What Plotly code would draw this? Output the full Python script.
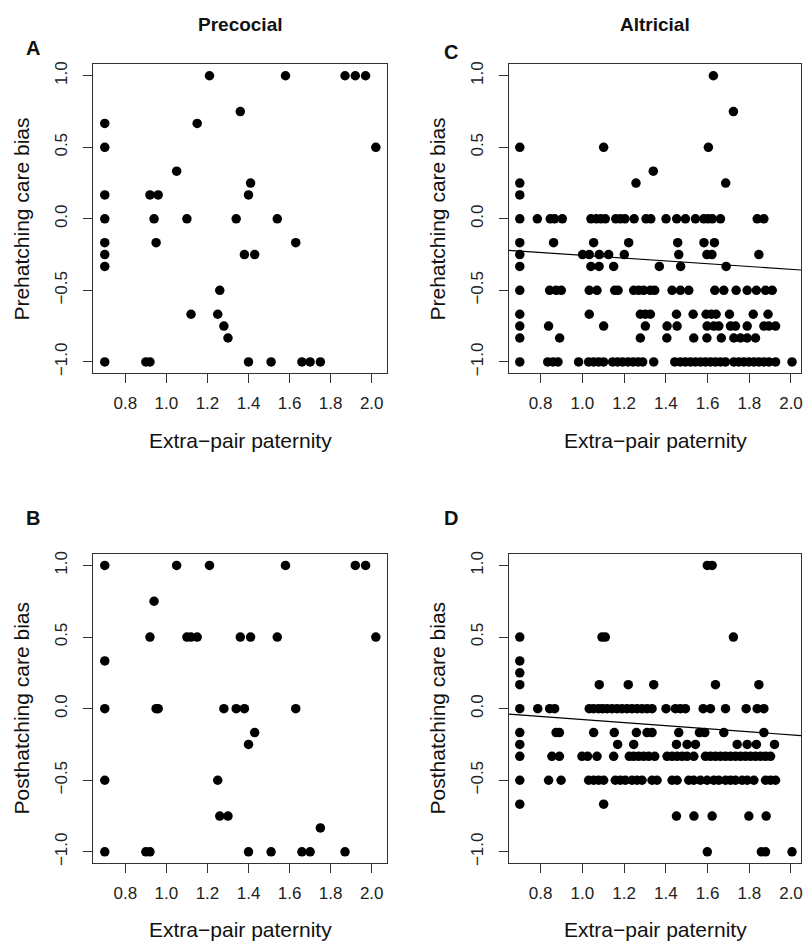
import plotly.graph_objects as go

# ---------------- data ----------------
tick_x = [0.8, 1.0, 1.2, 1.4, 1.6, 1.8, 2.0]
tick_x_text = ["0.8", "1.0", "1.2", "1.4", "1.6", "1.8", "2.0"]
tick_y = [-1.0, -0.5, 0.0, 0.5, 1.0]
tick_y_text = ["\u22121.0", "\u22120.5", "0.0", "0.5", "1.0"]

# Panel A: precocial, prehatching care bias
precocial_pre_x = [0.70, 0.70, 0.70, 0.70, 0.70, 0.70, 0.70, 0.70,
                   0.90, 0.92, 0.92, 0.94, 0.95, 0.96,
                   1.05, 1.10, 1.12, 1.15, 1.21, 1.25, 1.26, 1.28, 1.30,
                   1.34, 1.36, 1.38, 1.40, 1.40, 1.41, 1.43,
                   1.51, 1.54, 1.58, 1.63, 1.66, 1.70, 1.75,
                   1.87, 1.92, 1.97, 2.02]
precocial_pre_y = [0.667, 0.5, 0.167, 0.0, -0.167, -0.25, -0.333, -1.0,
                   -1.0, -1.0, 0.167, 0.0, -0.167, 0.167,
                   0.333, 0.0, -0.667, 0.667, 1.0, -0.667, -0.5, -0.75, -0.833,
                   0.0, 0.75, -0.25, 0.167, -1.0, 0.25, -0.25,
                   -1.0, 0.0, 1.0, -0.167, -1.0, -1.0, -1.0,
                   1.0, 1.0, 1.0, 0.5]

# Panel B: precocial, posthatching care bias
precocial_post_x = [0.70, 0.70, 0.70, 0.70, 0.70,
                    0.90, 0.92, 0.92, 0.94, 0.95, 0.96,
                    1.05, 1.10, 1.12, 1.15,
                    1.21, 1.25, 1.26, 1.28, 1.30,
                    1.34, 1.36, 1.38, 1.40, 1.40, 1.41, 1.43,
                    1.51, 1.54, 1.58, 1.63, 1.66, 1.70, 1.75,
                    1.87, 1.92, 1.97, 2.02]
precocial_post_y = [1.0, 0.333, 0.0, -0.5, -1.0,
                    -1.0, -1.0, 0.5, 0.75, 0.0, 0.0,
                    1.0, 0.5, 0.5, 0.5,
                    1.0, -0.5, -0.75, 0.0, -0.75,
                    0.0, 0.5, 0.0, -0.25, -1.0, 0.5, -0.167,
                    -1.0, 0.5, 1.0, 0.0, -1.0, -1.0, -0.833,
                    -1.0, 1.0, 1.0, 0.5]

# Panel C: altricial, prehatching care bias (x values grouped by bias level)
altricial_pre_levels = [1.0, 0.75, 0.5, 0.333, 0.25, 0.167, 0.0, -0.167,
                        -0.25, -0.333, -0.5, -0.667, -0.75, -0.833, -1.0]
altricial_pre_rows = [
    [1.628],
    [1.724],
    [0.70, 1.102, 1.604],
    [1.340],
    [0.70, 1.257, 1.687],
    [0.70],
    [0.70, 0.784, 0.846, 0.867, 0.904, 1.041, 1.067, 1.089, 1.110, 1.160, 1.182,
     1.204, 1.248, 1.305, 1.328, 1.401, 1.452, 1.494, 1.542, 1.582, 1.603, 1.623,
     1.662, 1.838, 1.870],
    [0.70, 0.862, 1.054, 1.222, 1.457, 1.583, 1.633],
    [0.70, 1.001, 1.033, 1.081, 1.126, 1.201, 1.462, 1.597, 1.621, 1.846],
    [0.70, 1.041, 1.080, 1.150, 1.369, 1.471, 1.689],
    [0.70, 0.843, 0.874, 0.899, 1.033, 1.070, 1.155, 1.171, 1.246, 1.270, 1.294,
     1.326, 1.347, 1.430, 1.470, 1.510, 1.635, 1.678, 1.737, 1.790, 1.834, 1.878,
     1.910],
    [0.70, 1.033, 1.278, 1.302, 1.326, 1.451, 1.531, 1.593, 1.618, 1.641, 1.705,
     1.819, 1.890],
    [0.70, 0.838, 1.102, 1.302, 1.406, 1.454, 1.598, 1.630, 1.654, 1.710, 1.734,
     1.790, 1.870, 1.894, 1.926],
    [0.70, 0.891, 1.278, 1.405, 1.534, 1.597, 1.666, 1.726, 1.758, 1.790, 1.830],
    [0.70, 0.834, 0.859, 0.883, 0.982, 1.030, 1.054, 1.078, 1.102, 1.145, 1.169,
     1.193, 1.219, 1.243, 1.267, 1.289, 1.342, 1.443, 1.470, 1.494, 1.518, 1.542,
     1.566, 1.590, 1.614, 1.638, 1.662, 1.686, 1.726, 1.750, 1.774, 1.798, 1.822,
     1.846, 1.870, 1.894, 1.926, 2.005],
]

# Panel D: altricial, posthatching care bias
altricial_post_levels = [1.0, 0.5, 0.333, 0.25, 0.167, 0.0, -0.167, -0.25,
                         -0.333, -0.5, -0.667, -0.75, -1.0]
altricial_post_rows = [
    [1.599, 1.622],
    [0.70, 1.094, 1.110, 1.724],
    [0.70],
    [0.70],
    [0.70, 1.081, 1.220, 1.342, 1.638, 1.846],
    [0.70, 0.786, 0.843, 0.867, 1.033, 1.054, 1.078, 1.097, 1.118, 1.142, 1.166,
     1.190, 1.214, 1.238, 1.262, 1.286, 1.310, 1.334, 1.401, 1.446, 1.470, 1.494,
     1.579, 1.614, 1.686, 1.785, 1.838, 1.870],
    [0.70, 0.874, 0.890, 1.054, 1.153, 1.259, 1.310, 1.334, 1.462, 1.561, 1.587,
     1.678, 1.870],
    [0.70, 1.169, 1.246, 1.451, 1.502, 1.542, 1.742, 1.790, 1.834, 1.921],
    [0.70, 0.854, 0.890, 0.998, 1.025, 1.070, 1.150, 1.225, 1.246, 1.270, 1.294,
     1.318, 1.347, 1.406, 1.430, 1.454, 1.478, 1.502, 1.534, 1.590, 1.614, 1.638,
     1.662, 1.686, 1.710, 1.734, 1.758, 1.782, 1.806, 1.830, 1.854, 1.878, 1.902],
    [0.70, 0.838, 0.898, 1.030, 1.054, 1.078, 1.102, 1.158, 1.182, 1.206, 1.238,
     1.262, 1.286, 1.334, 1.358, 1.430, 1.454, 1.510, 1.534, 1.566, 1.598, 1.630,
     1.654, 1.686, 1.710, 1.734, 1.766, 1.790, 1.822, 1.878, 1.902, 1.926],
    [0.70, 1.102],
    [1.451, 1.535, 1.622, 1.798, 1.881],
    [1.599, 1.858, 1.878, 2.005],
]

# fitted regression lines (intercept, slope)
altricial_pre_fit = [-0.157, -0.098]
altricial_post_fit = [0.031, -0.107]

panel_titles = ["Precocial", "Altricial"]
panel_letters = ["A", "B", "C", "D"]
x_title = "Extra\u2212pair paternity"
y_titles = ["Prehatching care bias", "Posthatching care bias"]

# ---------------- build ----------------
def expand(levels, rows):
    xs, ys = [], []
    for lv, row in zip(levels, rows):
        xs.extend(row)
        ys.extend([lv] * len(row))
    return xs, ys

alt_pre_x, alt_pre_y = expand(altricial_pre_levels, altricial_pre_rows)
alt_post_x, alt_post_y = expand(altricial_post_levels, altricial_post_rows)

W, H = 804, 946
XR_LEFT = [0.643, 2.076]    # precocial column (full box visible)
XR_RIGHT = [0.647, 2.048]   # altricial column (box cut at the right edge)
YR = [-1.08, 1.08]
FONT = "Liberation Sans, Arial, Helvetica, sans-serif"

def px(x):
    return x / W

def py(y):
    return 1 - y / H

fig = go.Figure()
marker = dict(color="black", size=9.5, line=dict(width=0))

panels = [
    (precocial_pre_x, precocial_pre_y, "x", "y", None, XR_LEFT),
    (precocial_post_x, precocial_post_y, "x2", "y2", None, XR_LEFT),
    (alt_pre_x, alt_pre_y, "x3", "y3", altricial_pre_fit, XR_RIGHT),
    (alt_post_x, alt_post_y, "x4", "y4", altricial_post_fit, XR_RIGHT),
]
for xs, ys, xa, ya, fit, xr in panels:
    fig.add_trace(go.Scatter(x=xs, y=ys, mode="markers", marker=marker,
                             xaxis=xa, yaxis=ya, showlegend=False,
                             hoverinfo="x+y"))
    if fit is not None:
        lx = xr
        ly = [fit[0] + fit[1] * v for v in lx]
        fig.add_trace(go.Scatter(x=lx, y=ly, mode="lines",
                                 line=dict(color="black", width=1.2),
                                 xaxis=xa, yaxis=ya, showlegend=False,
                                 hoverinfo="skip"))

# domains in page pixels
left_cols = [(93.3, 388.3), (510, 803)]
col_ranges = [XR_LEFT, XR_RIGHT]
rows_px = [(61.7, 372.7), (554.5, 865.8)]

TICKFONT = dict(family=FONT, size=17, color="#222")

def xaxis_cfg(col, anchor):
    return dict(domain=[px(left_cols[col][0]), px(left_cols[col][1])],
                range=col_ranges[col], anchor=anchor,
                tickvals=tick_x, ticktext=tick_x_text,
                ticks="outside", ticklen=9, tickwidth=1, tickcolor="#333",
                showline=True, mirror=True, linecolor="#333", linewidth=1,
                showgrid=False, zeroline=False, ticklabelstandoff=5,
                ticklabeloverflow="allow", tickfont=TICKFONT)

def yaxis_cfg(row, anchor):
    top, bot = rows_px[row]
    return dict(domain=[py(bot), py(top)], range=YR, anchor=anchor,
                tickvals=tick_y, ticktext=tick_y_text, tickangle=-90,
                ticks="outside", ticklen=9, tickwidth=1, tickcolor="#333",
                showline=True, mirror=True, linecolor="#333", linewidth=1,
                showgrid=False, zeroline=False, ticklabelstandoff=9,
                tickfont=TICKFONT)

fig.update_layout(
    width=W, height=H,
    margin=dict(l=0, r=0, t=0, b=0),
    paper_bgcolor="white", plot_bgcolor="white",
    font=dict(family=FONT, color="#111"),
    xaxis=xaxis_cfg(0, "y"), yaxis=yaxis_cfg(0, "x"),
    xaxis2=xaxis_cfg(0, "y2"), yaxis2=yaxis_cfg(1, "x2"),
    xaxis3=xaxis_cfg(1, "y3"), yaxis3=yaxis_cfg(0, "x3"),
    xaxis4=xaxis_cfg(1, "y4"), yaxis4=yaxis_cfg(1, "x4"),
    showlegend=False,
)

ann = []
def add_text(text, x, y, size, bold=False, angle=0):
    ann.append(dict(text=f"<b>{text}</b>" if bold else text,
                    x=px(x), y=py(y), xref="paper", yref="paper",
                    xanchor="center", yanchor="middle", showarrow=False,
                    textangle=angle, font=dict(family=FONT, size=size, color="#111")))

add_text(panel_titles[0], 241, 22, 19, bold=True)
add_text(panel_titles[1], 657, 22, 19, bold=True)
add_text(panel_letters[0], 33, 45, 20, bold=True)
add_text(panel_letters[1], 33, 518, 20, bold=True)
add_text(panel_letters[2], 452, 49, 20, bold=True)
add_text(panel_letters[3], 452, 518, 20, bold=True)
for cx in (241, 657):
    add_text(x_title, cx, 440, 21)
    add_text(x_title, cx, 932, 21)
for lx in (22, 439):
    add_text(y_titles[0], lx, 217, 21, angle=-90)
    add_text(y_titles[1], lx, 710, 21, angle=-90)
fig.update_layout(annotations=ann)

fig.write_html(
    "out.html",
    config={"displayModeBar": False},
    post_script="document.body.style.margin='0';document.body.style.overflow='hidden';",
)
